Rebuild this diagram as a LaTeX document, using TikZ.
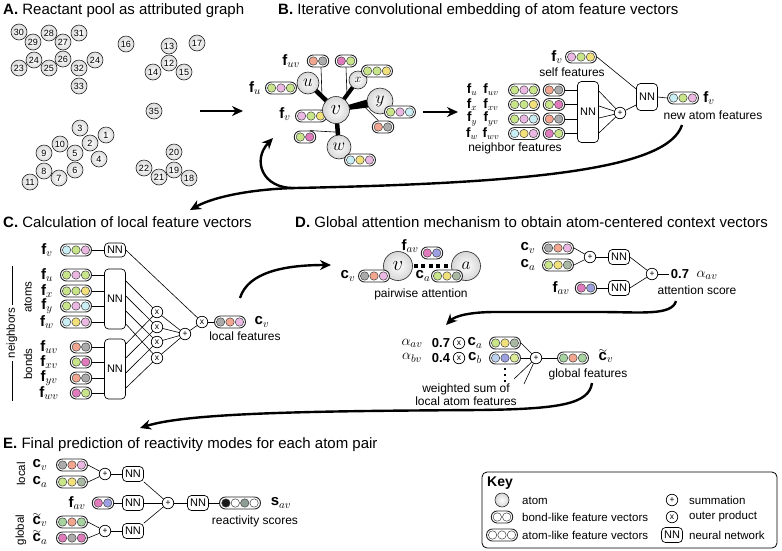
\documentclass[tikz,border=0pt]{standalone}
\usepackage{amsmath}
\usepackage{fontspec}
\setmainfont{Liberation Sans}
\usetikzlibrary{shapes.misc,arrows.meta,calc,backgrounds}
\definecolor{cg}{HTML}{C8E58A}
\definecolor{cp}{HTML}{EBB7E3}
\definecolor{cy}{HTML}{F2E07A}
\definecolor{cc}{HTML}{C9EEF3}
\definecolor{cs}{HTML}{F2A68F}
\definecolor{cgr}{HTML}{ABABAB}
\definecolor{cm}{HTML}{E07ABD}
\definecolor{cb}{HTML}{9C9FE0}
\definecolor{cgg}{HTML}{A8B8A2}
\definecolor{clb}{HTML}{BDD4F0}
\definecolor{csg}{HTML}{A6D3A0}
\definecolor{cyg}{HTML}{DCEB95}
\definecolor{cdk}{HTML}{8E9E94}
\newcommand\tcv[1]{\mathbf{c}\llap{\raisebox{7pt}{$\scriptstyle\sim$}}_{#1}}
\tikzset{
  atomA/.style={circle, draw=black!85, line width=0.6pt, inner color=white, outer color=black!14, inner sep=0, minimum size=16pt, font=\fontsize{9}{9}\selectfont},
  atomB/.style={circle, draw=black!85, line width=0.6pt, inner color=white, outer color=black!16, inner sep=0},
  pillA/.style={rounded rectangle, draw=black!85, line width=0.9pt, fill=white, minimum width=31pt, minimum height=12pt, inner sep=0},
  pillB/.style={pillA, minimum width=21.5pt},
  pillD/.style={pillA, minimum width=41pt},
  dot/.style={circle, draw=black!75, line width=0.5pt, minimum size=8.4pt, inner sep=0},
  nn/.style={draw, rounded corners=4pt, line width=0.7pt, fill=white, inner sep=0, minimum width=21pt, minimum height=15pt, font=\fontsize{11}{12}\selectfont},
  op/.style={circle, draw, line width=0.7pt, fill=white, minimum size=11.5pt, inner sep=0, font=\fontsize{8.5}{8.5}\selectfont},
  conn/.style={line width=0.6pt},
  big/.style={line width=2.4pt, -{Stealth[length=11pt,width=10pt]}},
  ttl/.style={anchor=base west, font=\fontsize{15}{17}\selectfont, inner sep=0},
  lab/.style={font=\fontsize{15}{17}\selectfont, inner sep=0},
  labs/.style={font=\fontsize{13.5}{15}\selectfont, inner sep=0},
  sml/.style={font=\fontsize{12}{14}\selectfont, inner sep=0},
  rot/.style={font=\fontsize{11.5}{13}\selectfont, inner sep=0, rotate=90},
  ksml/.style={font=\fontsize{11.5}{13}\selectfont, inner sep=0, anchor=west},
  num/.style={font=\bfseries\fontsize{13}{14}\selectfont, inner sep=0},
  sq/.style={fill, minimum size=2.8pt, inner sep=0},
}
\newcommand\apill[5]{%
  \node[pillA] (#1) at (#2) {};
  \node[dot,fill=#3] (#1-a) at ([xshift=-9.4pt]#1.center) {};
  \node[dot,fill=#4] (#1-b) at (#1.center) {};
  \node[dot,fill=#5] (#1-c) at ([xshift=9.4pt]#1.center) {};}
\newcommand\bpill[4]{%
  \node[pillB] (#1) at (#2) {};
  \node[dot,fill=#3] (#1-a) at ([xshift=-4.7pt]#1.center) {};
  \node[dot,fill=#4] (#1-b) at ([xshift=4.7pt]#1.center) {};}
\newcommand\dpill[6]{%
  \node[pillD] (#1) at (#2) {};
  \node[dot,fill=#3] (#1-a) at ([xshift=-14.1pt]#1.center) {};
  \node[dot,fill=#4] (#1-b) at ([xshift=-4.7pt]#1.center) {};
  \node[dot,fill=#5] (#1-c) at ([xshift=4.7pt]#1.center) {};
  \node[dot,fill=#6] (#1-d) at ([xshift=14.1pt]#1.center) {};}
\begin{document}
\begin{tikzpicture}[x=1pt,y=-1pt]
\useasboundingbox (0,0) rectangle (782,550);
% ---------- titles
\node[ttl] (tA) at (3,14.5) {\textbf{A.} Reactant pool as attributed graph};
\node[ttl] (tB) at (278,14.5) {\textbf{B.} Iterative convolutional embedding of atom feature vectors};
\node[ttl] (tC) at (3,227.5) {\textbf{C.} Calculation of local feature vectors};
\node[ttl] (tD) at (295,227.5) {\textbf{D.} Global attention mechanism to obtain atom-centered context vectors};
\node[ttl] (tE) at (3,448.5) {\textbf{E.} Final prediction of reactivity modes for each atom pair};
% ---------- A
\node[atomA] (a30) at (19,32) {30};
\node[atomA] (a29) at (33,42) {29};
\node[atomA] (a28) at (49,33) {28};
\node[atomA] (a27) at (63,42) {27};
\node[atomA] (a31) at (79,33) {31};
\node[atomA] (a24) at (34,60) {24};
\node[atomA] (a23) at (19,68) {23};
\node[atomA] (a25) at (49,68) {25};
\node[atomA] (a26) at (63,59) {26};
\node[atomA] (a32) at (79,68) {32};
\node[atomA] (a24b) at (95,60) {24};
\node[atomA] (a33) at (79,86) {33};
\node[atomA] (a16) at (126,44) {16};
\node[atomA] (a13) at (169,46) {13};
\node[atomA] (a17) at (197,43) {17};
\node[atomA] (a12) at (169,63) {12};
\node[atomA] (a14) at (153,72) {14};
\node[atomA] (a15) at (184,72) {15};
\node[atomA] (a35) at (154,111) {35};
\node[atomA] (a3) at (80,128) {3};
\node[atomA] (a1) at (106,135) {1};
\node[atomA] (a2) at (90,143) {2};
\node[atomA] (a10) at (60,144) {10};
\node[atomA] (a9) at (44,153) {9};
\node[atomA] (a5) at (75,153) {5};
\node[atomA] (a4) at (99,159) {4};
\node[atomA] (a8) at (44,171) {8};
\node[atomA] (a6) at (75,170) {6};
\node[atomA] (a11) at (30,182) {11};
\node[atomA] (a7) at (59,178) {7};
\node[atomA] (a20) at (174,152) {20};
\node[atomA] (a22) at (144,168) {22};
\node[atomA] (a19) at (174,170) {19};
\node[atomA] (a21) at (159,177) {21};
\node[atomA] (a18) at (189,178) {18};
\coordinate (arA1) at (200,111); \coordinate (arA2) at (243,111);
\draw[big] (arA1) -- (arA2);
% ---------- B graph
\apill{pu}{281,88}{cg}{cp}{cg}
\apill{pv}{311,116}{cp}{cg}{cy}
\node[atomB,minimum size=27pt,font=\fontsize{21}{21}\selectfont] (v) at (336,110) {$v$};
\node[atomB,minimum size=22pt,font=\fontsize{17}{17}\selectfont] (u) at (308,83) {$u$};
\node[atomB,minimum size=18pt,font=\fontsize{13}{13}\selectfont] (x) at (358,80) {$x$};
\node[atomB,minimum size=26pt,font=\fontsize{18}{18}\selectfont] (y) at (380,101) {$y$};
\node[atomB,minimum size=24pt,font=\fontsize{17}{17}\selectfont] (w) at (339,147) {$w$};
\begin{scope}[on background layer]
  \draw[line width=4.5pt] (v.center) -- (u.center);
  \draw[line width=4pt] (v.center) -- (x.center);
  \draw[line width=4.5pt] (v.center) -- (w.center);
  \fill ($(v.center)!1.5pt!90:(y.center)$) -- ($(y.center)!5pt!-90:(v.center)$) -- ($(y.center)!5pt!90:(v.center)$) -- ($(v.center)!1.5pt!-90:(y.center)$) -- cycle;
\end{scope}
\bpill{puv}{318,61}{cs}{cgr}
\bpill{pxv}{346,61}{cm}{cg}
\apill{px}{377,71}{cg}{cg}{cy}
\apill{py}{400,112}{cg}{cp}{cc}
\bpill{pyv}{383,127}{cs}{cgr}
\bpill{pwv}{305,137}{cg}{cm}
\apill{pw}{360,160}{cc}{cy}{cp}
\node[lab] (lfuv) at (291,61) {$\mathbf{f}_{uv}$};
\node[lab] (lfu) at (255,88) {$\mathbf{f}_u$};
\node[lab] (lfv) at (285,114) {$\mathbf{f}_v$};
\coordinate (muv) at ($(u.center)!0.5!(v.center)$);
\coordinate (mxv) at ($(x.center)!0.5!(v.center)$);
\coordinate (myv) at ($(v.center)!0.6!(y.center)$);
\coordinate (mwv) at ($(v.center)!0.6!(w.center)$);
\draw[conn] ([xshift=3pt]puv.south) -- (muv);
\draw[conn] (pxv.south) -- (mxv);
\draw[conn] (pyv.north west) -- (myv);
\draw[conn] (pwv.north east) -- (mwv);
\coordinate (arB1) at (423,112); \coordinate (arB2) at (458,112);
\draw[big] (arB1) -- (arB2);
% ---------- B right
\node[labs] (lfu2) at (472,90) {$\mathbf{f}_u$};
\node[labs] (lfuv2) at (491,90) {$\mathbf{f}_{uv}$};
\apill{ru}{524,90}{cg}{cp}{cg}
\bpill{ruv}{554,90}{cs}{cgr}
\node[labs] (lfx2) at (472,104.5) {$\mathbf{f}_x$};
\node[labs] (lfxv2) at (491,104.5) {$\mathbf{f}_{xv}$};
\apill{rx}{524,104.5}{cg}{cg}{cy}
\bpill{rxv}{554,104.5}{cg}{cm}
\node[labs] (lfy2) at (472,119) {$\mathbf{f}_y$};
\node[labs] (lfyv2) at (491,119) {$\mathbf{f}_{yv}$};
\apill{ry}{524,119}{cg}{cp}{cc}
\bpill{ryv}{554,119}{cs}{cgr}
\node[labs] (lfw2) at (472,133.5) {$\mathbf{f}_w$};
\node[labs] (lfwv2) at (491,133.5) {$\mathbf{f}_{wv}$};
\apill{rw}{524,133.5}{cc}{cy}{cp}
\bpill{rwv}{554,133.5}{cm}{cg}
\node[nn,minimum height=61pt] (nnB) at (588,112) {NN};
\draw[conn] (ruv.east) -- (ruv.east -| nnB.west);
\draw[conn] (rxv.east) -- (rxv.east -| nnB.west);
\draw[conn] (ryv.east) -- (ryv.east -| nnB.west);
\draw[conn] (rwv.east) -- (rwv.east -| nnB.west);
\node[sml] (lnf) at (515,148) {neighbor features};
\node[op] (plB) at (620,113) {+};
\draw[conn] ([yshift=21pt]nnB.east) -- (plB);
\draw[conn] ([yshift=6pt]nnB.east) -- (plB);
\draw[conn] ([yshift=-6pt]nnB.east) -- (plB);
\draw[conn] ([yshift=-21pt]nnB.east) -- (plB);
\node[nn,minimum height=27pt] (nnB2) at (647,97) {NN};
\draw[conn] (plB) -- ([yshift=-8pt]nnB2.west);
\apill{pself}{581,57}{cp}{cg}{cy}
\node[lab] (lfself) at (557,57) {$\mathbf{f}_v$};
\node[sml] (lself) at (572,72) {self features};
\draw[conn] (pself.east) -- ([yshift=8pt]nnB2.west);
\apill{pnew}{683,98}{cc}{cg}{cp}
\draw[conn] (nnB2.east) -- (pnew.west);
\node[lab] (lfnew) at (709,98) {$\mathbf{f}_v$};
\node[sml] (lnew) at (713,115) {new atom features};
% loop curve
\coordinate (lp0) at (682,125);
\coordinate (lpj) at (295,188);
\coordinate (lpe) at (273,138);
\coordinate (lpc) at (190,210);
\draw[line width=2.4pt] (lp0) .. controls (668,168) and (540,183) .. (lpj);
\draw[big] (lpj) .. controls (262,189) and (252,160) .. (lpe);
\draw[big] (lpj) .. controls (255,189) and (215,196) .. (lpc);
% ---------- C
\node[lab] (clfv) at (47,250) {$\mathbf{f}_v$};
\apill{cfv}{76,250}{cc}{cg}{cp}
\node[nn,minimum height=14pt] (cnn0) at (115,250) {NN};
\draw[conn] (cfv.east) -- (cnn0.west);
\node[lab] (clfu) at (47,275) {$\mathbf{f}_u$};
\apill{cfu}{76,275}{cg}{cp}{cg}
\node[lab] (clfx) at (47,291) {$\mathbf{f}_x$};
\apill{cfx}{76,291}{cg}{cg}{cy}
\node[lab] (clfy) at (47,306) {$\mathbf{f}_y$};
\apill{cfy}{76,306}{cg}{cp}{cc}
\node[lab] (clfw) at (47,322) {$\mathbf{f}_w$};
\apill{cfw}{76,322}{cc}{cy}{cp}
\node[nn,minimum height=60pt] (cnn1) at (115,299) {NN};
\draw[conn] (cfu.east) -- (cfu.east -| cnn1.west);
\draw[conn] (cfx.east) -- (cfx.east -| cnn1.west);
\draw[conn] (cfy.east) -- (cfy.east -| cnn1.west);
\draw[conn] (cfw.east) -- (cfw.east -| cnn1.west);
\node[lab] (clfuv) at (49,347) {$\mathbf{f}_{uv}$};
\bpill{cfuv}{81,347}{cs}{cgr}
\node[lab] (clfxv) at (49,362) {$\mathbf{f}_{xv}$};
\bpill{cfxv}{81,362}{cg}{cm}
\node[lab] (clfyv) at (49,378) {$\mathbf{f}_{yv}$};
\bpill{cfyv}{81,378}{cs}{cgr}
\node[lab] (clfwv) at (49,393) {$\mathbf{f}_{wv}$};
\bpill{cfwv}{81,393}{cm}{cg}
\node[nn,minimum height=60pt] (cnn2) at (115,369) {NN};
\draw[conn] (cfuv.east) -- (cfuv.east -| cnn2.west);
\draw[conn] (cfxv.east) -- (cfxv.east -| cnn2.west);
\draw[conn] (cfyv.east) -- (cfyv.east -| cnn2.west);
\draw[conn] (cfwv.east) -- (cfwv.east -| cnn2.west);
\node[rot] (latoms) at (28,297) {atoms};
\node[rot] (lbonds) at (28,364) {bonds};
\node[rot,inner xsep=3pt] (lneigh) at (12,333) {neighbors};
\coordinate (nbt) at (12,266); \coordinate (nbb) at (12,401);
\draw[conn] (nbt) -- (lneigh.east);
\draw[conn] (lneigh.west) -- (nbb);
\node[op] (cx1) at (157,312) {x};
\node[op] (cx2) at (157,327) {x};
\node[op] (cx3) at (157,342) {x};
\node[op] (cx4) at (157,358) {x};
\draw[conn] ([yshift=18pt]cnn1.east) -- (cx1);
\draw[conn] ([yshift=3pt]cnn1.east) -- (cx2);
\draw[conn] ([yshift=-12pt]cnn1.east) -- (cx3);
\draw[conn] ([yshift=-25pt]cnn1.east) -- (cx4);
\draw[conn] ([yshift=25pt]cnn2.east) -- (cx1);
\draw[conn] ([yshift=11pt]cnn2.east) -- (cx2);
\draw[conn] ([yshift=-4pt]cnn2.east) -- (cx3);
\draw[conn] ([yshift=-19pt]cnn2.east) -- (cx4);
\node[op] (cplus) at (185,334) {+};
\foreach \i in {1,2,3,4} \draw[conn] (cx\i) -- (cplus);
\node[op] (cxf) at (202,322) {x};
\draw[conn] (cplus) -- (cxf);
\draw[conn] (cnn0.east) -- (cxf);
\apill{ccv}{230,322}{cgr}{cs}{cp}
\draw[conn] (cxf) -- (ccv.west);
\node[lab] (clcv) at (262,322) {$\mathbf{c}_v$};
\node[sml] (llocal) at (245,336) {local features};
\coordinate (cd0) at (240,298); \coordinate (cd1) at (331,265);
\draw[big] (cd0) .. controls (248,272) and (285,265) .. (cd1);
% ---------- D pairwise
\node[atomB,minimum size=29pt,font=\fontsize{21}{21}\selectfont] (dv) at (398,266) {$v$};
\node[atomB,minimum size=29pt,font=\fontsize{19}{19}\selectfont] (da) at (466,266) {$a$};
\draw[line width=4pt, dash pattern=on 4pt off 3.5pt, shorten <=1pt, shorten >=2pt] (dv) -- (da);
\bpill{dfav}{432,253}{cm}{cb}
\node[lab] (dlfav) at (410,246) {$\mathbf{f}_{av}$};
\apill{dcv}{374,276}{cgr}{cs}{cp}
\node[lab] (dlcv) at (348,276) {$\mathbf{c}_v$};
\apill{dca}{447,276}{cg}{cy}{cgg}
\node[lab] (dlca) at (423,276) {$\mathbf{c}_a$};
\node[sml] (lpair) at (421,294) {pairwise attention};
% D attention score
\node[lab] (dlcv2) at (528,248) {$\mathbf{c}_v$};
\apill{dcv2}{558,248}{cgr}{cs}{cp}
\node[lab] (dlca2) at (528,265) {$\mathbf{c}_a$};
\apill{dca2}{558,265}{cg}{cy}{cgg}
\node[op] (dpl1) at (590,257) {+};
\node[nn] (dnn1) at (619,257) {NN};
\node[lab] (dlfav2) at (561,288) {$\mathbf{f}_{av}$};
\bpill{dfav2}{586,288}{cm}{cb}
\node[nn] (dnn2) at (619,288) {NN};
\node[op] (dpl2) at (652,274) {+};
\node[num] (d07) at (680,274) {0.7};
\node[lab] (dalpha) at (707,275) {$\alpha_{av}$};
\node[sml] (lattn) at (697,290) {attention score};
\draw[conn] (dcv2.east) -- (dpl1);
\draw[conn] (dca2.east) -- (dpl1);
\draw[conn] (dpl1) -- (dnn1);
\draw[conn] (dnn1.east) -- (dpl2);
\draw[conn] (dfav2.east) -- (dnn2);
\draw[conn] (dnn2.east) -- (dpl2);
\draw[conn] (dpl2) -- ([xshift=-2pt]d07.west);
\coordinate (at0) at (676,301); \coordinate (at1) at (446,325);
\draw[big] (at0) .. controls (672,316) and (640,312) .. (600,312) -- (495,312) .. controls (470,312) and (455,316) .. (at1);
% D weighted sum
\node[lab] (dlaav) at (412,343) {$\alpha_{av}$};
\node[num] (d07b) at (441,343) {0.7};
\node[op] (dx1) at (459,343) {x};
\node[lab] (dlca3) at (475,343) {$\mathbf{c}_a$};
\apill{dca3}{505,343}{cg}{cy}{cgg}
\node[lab] (dlabv) at (412,358) {$\alpha_{bv}$};
\node[num] (d04) at (441,358) {0.4};
\node[op] (dx2) at (459,358) {x};
\node[lab] (dlcb) at (475,358) {$\mathbf{c}_b$};
\apill{dcb}{505,358}{clb}{cb}{cyg}
\node[op] (dpl3) at (536,358) {+};
\draw[conn] (dca3.east) -- (dpl3);
\draw[conn] (dcb.east) -- (dpl3);
\coordinate (dw1) at (514,379); \coordinate (dw2) at (524,384);
\draw[conn] (dw1) -- (dpl3);
\draw[conn] (dw2) -- (dpl3);
\node[sq] (dq1) at (505,369) {};
\node[sq] (dq2) at (505,375) {};
\node[sq] (dq3) at (505,381) {};
\node[sml] (lws1) at (466,389) {weighted sum of};
\node[sml] (lws2) at (466,401) {local atom features};
\apill{dgt}{573,358}{csg}{cs}{csg}
\draw[conn] (dpl3) -- (dgt.west);
\node[lab] (dlgt) at (606,356) {$\tcv{v}$};
\node[sml] (lglob) at (588,374) {global features};
\coordinate (de0) at (592,383); \coordinate (de1) at (140,428);
\draw[big] (de0) .. controls (589,404) and (560,409) .. (480,410) .. controls (330,411) and (190,412) .. (de1);
% ---------- E
\node[rot] (elocal) at (21,474) {local};
\node[rot] (eglobal) at (21,530) {global};
\node[lab] (elcv) at (40,465) {$\mathbf{c}_v$};
\apill{ecv}{72,465}{cgr}{cs}{cp}
\node[lab] (elca) at (40,482) {$\mathbf{c}_a$};
\apill{eca}{72,482}{cg}{cy}{cgg}
\node[op] (epl1) at (105,474) {+};
\node[nn] (enn1) at (133,474) {NN};
\node[lab] (elfav) at (77,503) {$\mathbf{f}_{av}$};
\bpill{efav}{103,503}{cm}{cb}
\node[nn] (enn2) at (133,503) {NN};
\node[op] (epl2) at (168,503) {+};
\node[nn] (enn3) at (198,503) {NN};
\dpill{esc}{240,503}{black!90}{white}{cdk}{white}
\node[lab] (els) at (281,503) {$\mathbf{s}_{av}$};
\node[sml] (lreac) at (255,521) {reactivity scores};
\node[lab] (elgv) at (40,520) {$\tcv{v}$};
\apill{egv}{72,522}{csg}{cs}{csg}
\node[lab] (elga) at (40,537.5) {$\tcv{a}$};
\apill{ega}{72,538}{cm}{cgr}{cm}
\node[op] (epl3) at (105,531) {+};
\node[nn] (enn4) at (133,531) {NN};
\draw[conn] (ecv.east) -- (epl1);
\draw[conn] (eca.east) -- (epl1);
\draw[conn] (epl1) -- (enn1);
\draw[conn] (enn1.south east) -- (epl2);
\draw[conn] (efav.east) -- (enn2);
\draw[conn] (enn2) -- (epl2);
\draw[conn] (egv.east) -- (epl3);
\draw[conn] (ega.east) -- (epl3);
\draw[conn] (epl3) -- (enn4);
\draw[conn] (enn4.north east) -- (epl2);
\draw[conn] (epl2) -- (enn3);
\draw[conn] (enn3) -- (esc.west);
% ---------- Key
\node[draw, rounded corners=5pt, line width=0.8pt, minimum width=295pt, minimum height=76pt, inner sep=0] (key) at (629.5,510) {};
\node[font=\bfseries\fontsize{14}{16}\selectfont, anchor=west, inner sep=0] (keyt) at (487,483) {Key};
\node[atomB, minimum size=14pt] (katom) at (502,500) {};
\node[ksml] (katl) at (522,501) {atom};
\bpill{kb}{502,517}{white}{white}
\node[ksml] (kbl) at (522,517) {bond-like feature vectors};
\apill{ka}{502,535}{white}{white}{white}
\node[ksml] (kal) at (522,535) {atom-like feature vectors};
\node[op] (kplus) at (672,500) {+};
\node[ksml] (kpl) at (689,500) {summation};
\node[op] (kx) at (672,517) {x};
\node[ksml] (kxl) at (689,517) {outer product};
\node[nn] (knn) at (672,535) {NN};
\node[ksml] (knl) at (689,535) {neural network};
\end{tikzpicture}
\end{document}
